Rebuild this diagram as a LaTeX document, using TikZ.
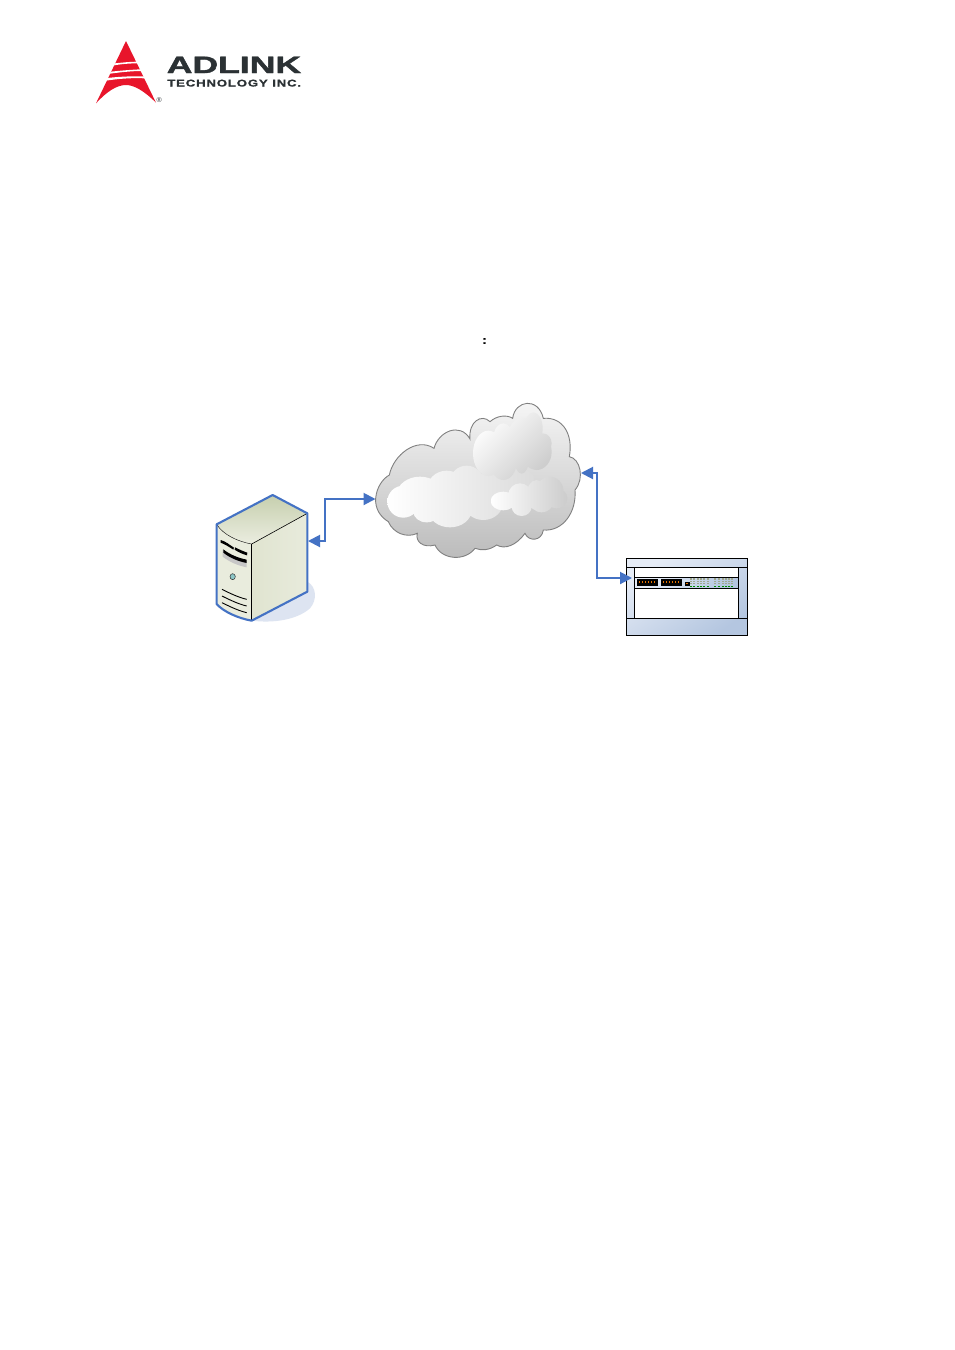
\documentclass[tikz,border=0pt]{standalone}
\usepackage{fontspec}
\setmainfont{Liberation Sans}
\newfontfamily\logofont[FakeBold=1.6]{Liberation Sans Bold}
\newfontfamily\logofontsmall[FakeBold=0.8,LetterSpace=6]{Liberation Sans Bold}
\usetikzlibrary{arrows.meta}
\definecolor{linkblue}{HTML}{4472C4}
\definecolor{logored}{HTML}{E8152B}
\definecolor{logodark}{HTML}{2B3134}
\definecolor{rackdark}{HTML}{B4C6E0}
\definecolor{racklight}{HTML}{E6ECF6}
\definecolor{shadowblue}{HTML}{DDE4F1}
\definecolor{srvtopa}{HTML}{C6CFAE}
\definecolor{srvtopb}{HTML}{EBEDE0}
\definecolor{srvsidea}{HTML}{E0E4D0}
\definecolor{srvsideb}{HTML}{E8EBDC}
\definecolor{srvfront}{HTML}{E9ECDD}
\definecolor{portgrey}{HTML}{9FA88F}
\tikzset{
  x=1pt,y=-1pt,
  link/.style={draw=linkblue,line width=2pt,{Triangle[length=12pt,width=12pt]}-{Triangle[length=12pt,width=12pt]},line join=miter},
  logotext/.style={inner sep=0pt,anchor=base west,text=logodark},
  rackline/.style={draw=black,line width=0.9pt},
  zoomA/.style={shift={(80,30)},x=0.33333pt,y=-0.33333pt},
  zoomB/.style={shift={(200,480)},x=0.33333pt,y=-0.33333pt},
  zoomC/.style={shift={(360,395)},x=0.33333pt,y=-0.33333pt},
  zoomD/.style={shift={(615,550)},x=0.33333pt,y=-0.33333pt},
}
\begin{document}
\begin{tikzpicture}
\useasboundingbox (0,0) rectangle (954,1350);
\fill[white] (0,0) rectangle (954,1350);

% ---- logo
\begin{scope}[zoomA]
  \fill[logored] (138,33) -- (228,218) .. controls (190,180) and (160,165) .. (138,165)
     .. controls (110,165) and (80,185) .. (48,220) -- cycle;
  \fill[white] (104,100) .. controls (125,98) and (150,95) .. (172,95) -- (174,100) .. controls (150,100) and (125,102) .. (102,106) -- cycle;
  \fill[white] (92,125) .. controls (120,122) and (155,119) .. (182,118) -- (184,123) .. controls (155,123) and (120,127) .. (90,131) -- cycle;
  \fill[white] (82,144) .. controls (115,140) and (160,138) .. (191,139) -- (194,145) .. controls (160,143) and (115,146) .. (78,152) -- cycle;
\end{scope}
\node[logotext,xscale=1.5,font=\logofont\fontsize{23.7}{24}\selectfont] (adlink) at (166.5,73) {ADLINK};
\node[logotext,xscale=1.35,font=\logofontsmall\fontsize{9.8}{10}\selectfont] (tech) at (167,86.5) {TECHNOLOGY INC.};
\node[inner sep=0pt,text=logodark,font=\fontsize{7}{7}\selectfont] (reg) at (159.3,100) {®};

% ---- colon
\node[inner sep=0pt,font=\logofont\fontsize{11}{11}\selectfont] (colon) at (484.5,341) {:};

% ---- server
\begin{scope}[zoomB]
  \fill[shadowblue] (260,340) -- (322,305) .. controls (350,320) and (352,360) .. (330,385)
    .. controls (290,420) and (220,430) .. (155,422) -- cycle;
  \shade[left color=srvsidea,right color=srvsideb]
    (155,192) -- (322,100) -- (322,335) -- (155,422) -- cycle;
  \shade[top color=srvtopa,bottom color=srvtopb]
    (50,133) -- (218,45) -- (322,100) -- (155,192) .. controls (115,185) and (70,165) .. (50,133) -- cycle;
  \fill[srvfront] (50,133) .. controls (70,165) and (115,185) .. (155,192) -- (155,422)
     .. controls (115,415) and (70,395) .. (50,372) -- cycle;
  % front details
  \fill[black] (62,180) .. controls (75,183) and (90,195) .. (102,203) -- (100,209) .. controls (88,201) and (75,193) .. (62,188) -- cycle;
  \fill[black] (105,202) .. controls (117,208) and (130,214) .. (142,218) -- (141,226) .. controls (128,222) and (115,217) .. (104,209) -- cycle;
  \fill[black!22] (68,208) .. controls (90,225) and (115,235) .. (140,240) -- (140,262) .. controls (115,257) and (90,247) .. (68,230) -- cycle;
  \fill[black] (70,208) .. controls (90,224) and (115,234) .. (140,239) -- (140,249) .. controls (115,244) and (90,234) .. (70,218) -- cycle;
  \filldraw[fill=teal!45!white,draw=black!80,line width=0.5pt] (98,290) ellipse [x radius=8,y radius=9];
  \foreach \d in {0,20,40}{
    \draw[black,line width=0.9pt] (66,{328+\d}) .. controls (90,{340+\d}) and (115,{352+\d}) .. (140,{358+\d});
  }
  \draw[black,line width=0.6pt] (155,192) -- (322,100);
  \draw[black,line width=0.6pt] (155,192) -- (155,422);
  \draw[black,line width=0.4pt] (50,133) .. controls (70,165) and (115,185) .. (155,192);
  \draw[linkblue,line width=2.1pt,line join=round] (50,133) -- (218,45) -- (322,100) -- (322,335) -- (155,422)
     .. controls (115,415) and (70,395) .. (50,372) -- cycle;
\end{scope}
\coordinate (serverport) at (308,541);

% ---- cloud
\begin{scope}[zoomC]
  \def\cloudpath{(47,310) .. controls (50,275) and (70,250) .. (88,240)
     .. controls (100,180) and (170,125) .. (222,160)
     .. controls (235,110) and (300,80) .. (330,132)
     .. controls (325,80) and (365,55) .. (390,80)
     .. controls (410,62) and (440,58) .. (458,70)
     .. controls (465,15) and (535,5) .. (550,70)
     .. controls (610,65) and (640,120) .. (628,185)
     .. controls (660,190) and (675,250) .. (645,285)
     .. controls (650,350) and (610,410) .. (550,405)
     .. controls (545,440) and (505,440) .. (495,415)
     .. controls (470,450) and (435,465) .. (410,450)
     .. controls (390,465) and (365,468) .. (345,460)
     .. controls (315,500) and (245,495) .. (225,450)
     .. controls (190,460) and (165,440) .. (172,415)
     .. controls (140,430) and (100,415) .. (85,380)
     .. controls (60,365) and (45,340) .. (47,310) -- cycle}
  \shade[top color=black!3,bottom color=black!27] \cloudpath;
  % lower-left inner cloud, fades into the body
  \begin{scope}
    \clip (130,320) circle [radius=48] (180,300) ellipse [x radius=70,y radius=55]
          (260,285) ellipse [x radius=60,y radius=58] (320,260) ellipse [x radius=50,y radius=48]
          (270,345) ellipse [x radius=65,y radius=52] (200,350) ellipse [x radius=40,y radius=32]
          (370,320) ellipse [x radius=60,y radius=55] (440,260) ellipse [x radius=85,y radius=50];
    \shade[left color=white,right color=black!14] (82,200) rectangle (520,400);
  \end{scope}
  % right-hand small cloud
  \begin{scope}
    \clip (430,318) ellipse [x radius=38,y radius=28] (480,300) ellipse [x radius=35,y radius=35]
          (485,335) ellipse [x radius=30,y radius=28] (530,300) ellipse [x radius=30,y radius=45]
          (570,285) ellipse [x radius=40,y radius=40] (590,310) ellipse [x radius=32,y radius=30]
          (545,320) ellipse [x radius=35,y radius=32];
    \shade[left color=white,right color=black!20] (393,245) rectangle (622,362);
  \end{scope}
  % upper cloud
  \begin{scope}
    \clip (385,175) ellipse [x radius=46,y radius=68] (430,130) ellipse [x radius=30,y radius=45]
          (430,200) ellipse [x radius=40,y radius=55] (490,120) ellipse [x radius=45,y radius=52]
          (520,100) ellipse [x radius=28,y radius=48] (530,170) ellipse [x radius=45,y radius=55]
          (548,145) ellipse [x radius=27,y radius=30] (485,190) ellipse [x radius=22,y radius=46];
    \shade[shading=axis,top color=white,bottom color=black!20,shading angle=45] (330,50) rectangle (585,255);
  \end{scope}
  \draw[black!50,line width=0.9pt] \cloudpath;
\end{scope}
\coordinate (cloudleft) at (375.5,499);
\coordinate (cloudright) at (581,473);

% ---- rack
\begin{scope}[zoomD]
  \shade[shading=axis,top color=racklight,bottom color=rackdark,shading angle=35] (35,26) rectangle (397,256);
  \fill[white] (59,52) rectangle (370,205);
  \shade[shading=axis,top color=racklight,bottom color=rackdark,shading angle=45] (59,82) rectangle (370,115);
  \draw[rackline] (35,26) rectangle (397,256);
  \draw[rackline] (35,52) -- (397,52);
  \draw[rackline] (35,205) -- (397,205);
  \draw[rackline] (59,52) -- (59,205);
  \draw[rackline] (370,52) -- (370,205);
  \draw[rackline] (59,82) -- (370,82);
  \draw[rackline] (59,115) -- (370,115);
  \foreach \xx in {66,138}{
    \fill[black] (\xx,88) rectangle ++(62,19);
    \foreach \k in {0,1,2,3,4,5}{
      \fill[orange!90!black] ({\xx+6+\k*9},94) rectangle ++(4,6);
    }
  }
  \fill[black] (210,96) rectangle (224,107);
  \fill[orange!90!black] (213,98) rectangle (218,102);
  \foreach \xx in {224,234,245,255,265,275,298,308,320,330,339,348}{
    \foreach \yy in {85,92,99}{
      \fill[portgrey] (\xx,\yy) rectangle ++(6,4);
    }
    \fill[green!55!black] (\xx,108) rectangle ++(6,3);
  }
\end{scope}
\coordinate (rackport) at (632,578);

% ---- connectors
\coordinate (bendA) at (325,541);
\coordinate (bendB) at (325,499);
\coordinate (bendC) at (597,473);
\coordinate (bendD) at (597,578);
\draw[link] (serverport) -- (bendA) -- (bendB) -- (cloudleft);
\draw[link] (cloudright) -- (bendC) -- (bendD) -- (rackport);
\end{tikzpicture}
\end{document}
